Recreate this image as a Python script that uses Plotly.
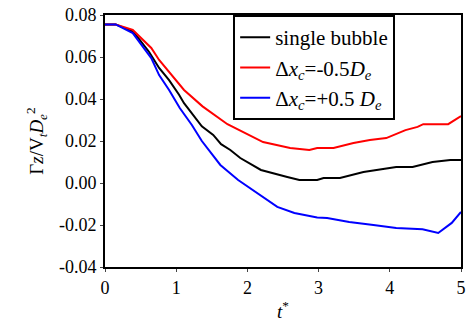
import plotly.graph_objects as go

t_single = [0, 0.15, 0.4, 0.62, 0.76, 0.9, 1.04, 1.11, 1.36, 1.52, 1.63, 1.76, 1.9, 2.19, 2.56, 2.73, 2.98, 3.07, 3.3, 3.63, 4.09, 4.32, 4.6, 4.85, 5.0]
v_single = [0.0755, 0.0755, 0.072, 0.0624, 0.0548, 0.049, 0.042, 0.038, 0.027, 0.0229, 0.0185, 0.0157, 0.0119, 0.0062, 0.0029, 0.0014, 0.0014, 0.0024, 0.0024, 0.0052, 0.0076, 0.0076, 0.010, 0.011, 0.011]

t_minus = [0, 0.15, 0.39, 0.65, 0.76, 0.93, 1.04, 1.11, 1.37, 1.72, 2.22, 2.6, 2.87, 2.98, 3.21, 3.49, 3.72, 3.95, 4.22, 4.39, 4.47, 4.82, 5.0]
v_minus = [0.0755, 0.0755, 0.0729, 0.0643, 0.0586, 0.0514, 0.0467, 0.0443, 0.0365, 0.028, 0.0195, 0.0167, 0.0157, 0.0167, 0.0167, 0.019, 0.0205, 0.0214, 0.0252, 0.0267, 0.028, 0.028, 0.0319]

t_plus = [0, 0.15, 0.39, 0.65, 0.76, 0.9, 1.05, 1.22, 1.36, 1.62, 1.87, 2.01, 2.24, 2.42, 2.66, 2.98, 3.12, 3.43, 3.77, 4.09, 4.46, 4.68, 4.87, 5.0]
v_plus = [0.0755, 0.0755, 0.0714, 0.0595, 0.0514, 0.0443, 0.0357, 0.0276, 0.0200, 0.0086, 0.0014, -0.0019, -0.0071, -0.0114, -0.0143, -0.0164, -0.0167, -0.0186, -0.020, -0.0214, -0.022, -0.0238, -0.019, -0.0138]

x_ticks = [0, 1, 2, 3, 4, 5]
y_ticks = [0.08, 0.06, 0.04, 0.02, 0.00, -0.02, -0.04]
y_ticklabels = ["0.08", "0.06", "0.04", "0.02", "0.00", "-0.02", "-0.04"]

names = ["single bubble",
         "Δ<i>x</i><sub><i>c</i></sub>=-0.5<i>D</i><sub><i>e</i></sub>",
         "Δ<i>x</i><sub><i>c</i></sub>=+0.5 <i>D</i><sub><i>e</i></sub>"]
colors = ["#000000", "#ff0000", "#0000ff"]

fig = go.Figure()
for t, v, n, c in zip([t_single, t_minus, t_plus], [v_single, v_minus, v_plus], names, colors):
    fig.add_trace(go.Scatter(x=t, y=v, mode="lines", name=n, line=dict(color=c, width=2)))

font = "Liberation Serif"
fig.update_layout(
    width=470, height=333,
    margin=dict(l=105, r=4, t=15, b=66),
    paper_bgcolor="white", plot_bgcolor="white",
    font=dict(family=font, size=18, color="black"),
    showlegend=True,
    legend=dict(x=0.36, y=1.0, xanchor="left", yanchor="top",
                bordercolor="black", borderwidth=2, bgcolor="white",
                font=dict(family=font, size=21), tracegroupgap=0),
    xaxis=dict(range=[0, 5], tickvals=x_ticks, showline=True, linecolor="black", linewidth=2,
               mirror=True, ticks="outside", ticklen=3, tickwidth=1, showgrid=False, zeroline=False,
               tickfont=dict(family=font, size=18),
               title=dict(text="<i>t</i><sup>*</sup>", standoff=8, font=dict(family=font, size=19))),
    yaxis=dict(range=[-0.04, 0.08], tickvals=y_ticks, ticktext=y_ticklabels, showline=True,
               linecolor="black", linewidth=2, mirror=True, ticks="outside", ticklen=3, tickwidth=1,
               showgrid=False, zeroline=False, tickfont=dict(family=font, size=18),
               title=dict(text="Γ<i>z</i>/V<sub><i>t</i></sub><i>D</i><sub><i>e</i></sub><sup>2</sup>", standoff=10,
                          font=dict(family=font, size=19))),
)
fig.write_html("out.html")
